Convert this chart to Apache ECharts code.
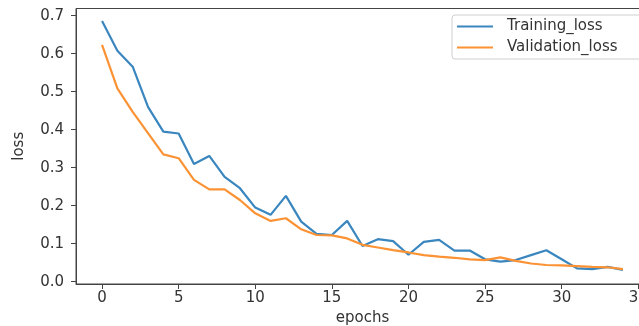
<!DOCTYPE html>
<html>
<head>
<meta charset="utf-8">
<script src="https://cdn.jsdelivr.net/npm/echarts@6/dist/echarts.min.js"></script>
<style>
html,body{margin:0;padding:0;background:#fff;}
#c{width:639px;height:326px;}
</style>
</head>
<body>
<div id="c"></div>
<script>
var epochs = [0,1,2,3,4,5,6,7,8,9,10,11,12,13,14,15,16,17,18,19,20,21,22,23,24,25,26,27,28,29,30,31,32,33,34];
var trainingLoss = [0.686,0.608,0.566,0.460,0.395,0.390,0.310,0.331,0.276,0.246,0.195,0.176,0.226,0.158,0.126,0.123,0.160,0.094,0.112,0.107,0.071,0.105,0.110,0.082,0.082,0.059,0.053,0.057,0.070,0.083,0.059,0.035,0.033,0.039,0.031];
var validationLoss = [0.623,0.509,0.447,0.391,0.335,0.325,0.268,0.243,0.243,0.215,0.180,0.160,0.167,0.138,0.123,0.122,0.114,0.097,0.090,0.083,0.077,0.070,0.066,0.063,0.059,0.057,0.064,0.055,0.048,0.044,0.043,0.041,0.039,0.038,0.033];
var xTicks = [0,5,10,15,20,25,30,35];
var yTicks = [0.0,0.1,0.2,0.3,0.4,0.5,0.6,0.7];
var seriesNames = ['Training_loss','Validation_loss'];

var font = 'DejaVu Sans';
var txt = '#333';
var axisCol = '#444';
function pairs(v){ return epochs.map(function(e,i){ return [e, v[i]]; }); }

var chart = echarts.init(document.getElementById('c'), null, {renderer:'canvas'});
chart.setOption({
  animation:false,
  backgroundColor:'#fff',
  grid:{left:76, top:8.5, right:-10, bottom:42, show:true, borderColor:axisCol, borderWidth:1,
        containLabel:false, outerBoundsMode:'none'},
  legend:{
    data:seriesNames, orient:'vertical', left:452, top:15,
    padding:[1,30,1,5], itemGap:0, itemWidth:36, itemHeight:2, icon:'rect',
    backgroundColor:'#fff', borderColor:'#d0d0d0', borderWidth:1, borderRadius:3,
    textStyle:{fontFamily:font, fontSize:15, color:txt, lineHeight:21, padding:[0,0,0,9]}
  },
  xAxis:{
    type:'value', min:-1.7, max:35.7,
    name:'epochs', nameLocation:'middle', nameGap:24,
    nameTextStyle:{fontFamily:font, fontSize:15, color:txt},
    axisLine:{show:true, onZero:false, lineStyle:{color:axisCol, width:1}},
    axisTick:{show:true, length:5, customValues:xTicks, lineStyle:{color:axisCol}},
    axisLabel:{customValues:xTicks, fontFamily:font, fontSize:15, color:txt, margin:7},
    splitLine:{show:false}
  },
  yAxis:{
    type:'value', min:-0.006, max:0.719,
    name:'loss', nameLocation:'middle', nameGap:49, nameRotate:90,
    nameTextStyle:{fontFamily:font, fontSize:15, color:txt},
    axisLine:{show:true, onZero:false, lineStyle:{color:axisCol, width:1}},
    axisTick:{show:true, length:5, customValues:yTicks, lineStyle:{color:axisCol}},
    axisLabel:{customValues:yTicks, fontFamily:font, fontSize:15, color:txt, margin:12,
      formatter:function(v){ return v.toFixed(1); }},
    splitLine:{show:false}
  },
  series:[
    {name:seriesNames[0], type:'line', data:pairs(trainingLoss), symbol:'none',
     lineStyle:{color:'#3a86bf', width:2.2}, itemStyle:{color:'#3a86bf'}},
    {name:seriesNames[1], type:'line', data:pairs(validationLoss), symbol:'none',
     lineStyle:{color:'#fb9234', width:2.2}, itemStyle:{color:'#fb9234'}}
  ]
});
</script>
</body>
</html>
